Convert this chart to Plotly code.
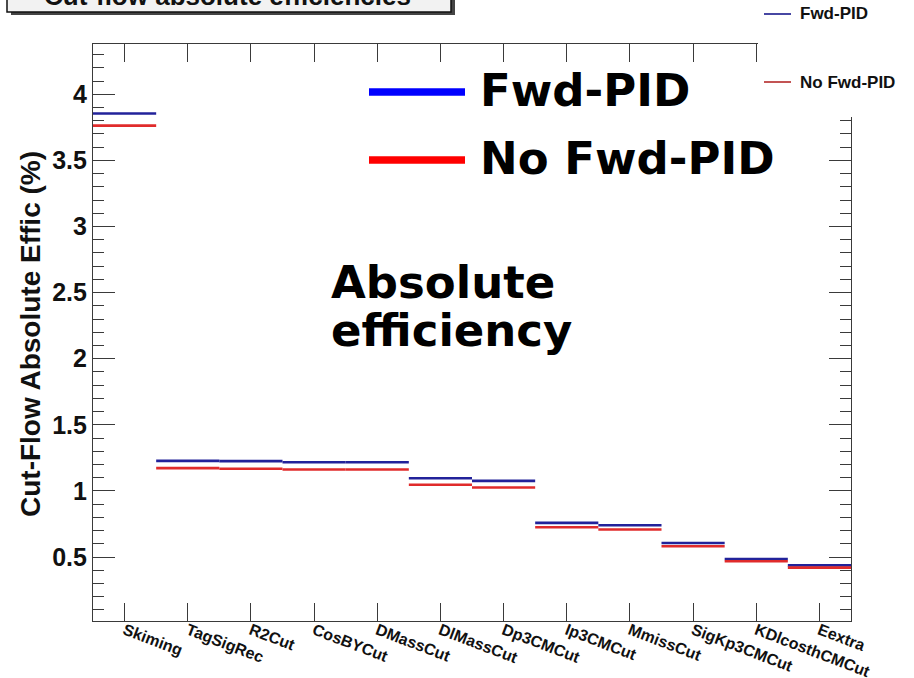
import plotly.graph_objects as go

# Cut-flow steps and absolute efficiencies (%)
cuts = ["Skiming", "TagSigRec", "R2Cut", "CosBYCut", "DMassCut", "DlMassCut",
        "Dp3CMCut", "Ip3CMCut", "MmissCut", "SigKp3CMCut", "KDlcosthCMCut", "Eextra"]
eff_fwd_pid = [3.854, 1.227, 1.225, 1.217, 1.217, 1.096, 1.076, 0.758, 0.740, 0.606, 0.485, 0.437]
eff_no_fwd_pid = [3.763, 1.172, 1.167, 1.162, 1.162, 1.046, 1.026, 0.725, 0.708, 0.581, 0.468, 0.420]

W, H = 914, 678
ML, MR, MT, MB = 93, 63, 44, 57
PW, PH = W - ML - MR, H - MT - MB


def fx(px):
    return (px - ML) / PW


def fy(py):
    return (H - MB - py) / PH


def bin_segments(values):
    """Horizontal segment per bin, spanning the full bin width."""
    xs, ys = [], []
    for i, v in enumerate(values):
        xs += [i - 0.5, i + 0.5, None]
        ys += [v, v, None]
    return xs, ys


fig = go.Figure()
for name, vals, col in [("Fwd-PID", eff_fwd_pid, "#22229a"),
                        ("No Fwd-PID", eff_no_fwd_pid, "#e02b2b")]:
    xs, ys = bin_segments(vals)
    fig.add_trace(go.Scatter(x=xs, y=ys, mode="lines", name=name,
                             line=dict(color=col, width=2.6),
                             connectgaps=False, showlegend=False,
                             hoverinfo="skip"))

axis_col = "#3a3a3a"
fig.update_xaxes(
    range=[-0.5, len(cuts) - 0.5],
    tickmode="array", tickvals=list(range(len(cuts))), ticktext=cuts,
    tickangle=21, ticks="inside", ticklen=18, tickwidth=1, tickcolor=axis_col,
    ticklabelstandoff=-7,
    showline=True, linecolor=axis_col, linewidth=1.2, mirror="ticks",
    showgrid=False, zeroline=False,
    tickfont=dict(family="Liberation Sans", size=16, color="#111111", weight="bold"),
)
fig.update_yaxes(
    range=[0.016, 4.38],
    tick0=0, dtick=0.5, ticks="inside", ticklen=22, tickwidth=1, tickcolor=axis_col,
    minor=dict(dtick=0.1, tick0=0, ticks="inside", ticklen=11, tickcolor=axis_col, tickwidth=1),
    showline=True, linecolor=axis_col, linewidth=1.2, mirror="ticks",
    showgrid=False, zeroline=False,
    tickfont=dict(family="Liberation Sans", size=25, color="#111111", weight="bold"),
)

shapes = []
annotations = []

# Title box (partly off the top of the canvas)
shapes.append(dict(type="rect", xref="paper", yref="paper", layer="above",
                   x0=fx(11), x1=fx(455), y0=fy(15), y1=fy(-40),
                   fillcolor="#444444", line=dict(width=0)))
shapes.append(dict(type="rect", xref="paper", yref="paper", layer="above",
                   x0=fx(7), x1=fx(451), y0=fy(12), y1=fy(-40),
                   fillcolor="#f2f2f2", line=dict(color="#111111", width=1.5)))
annotations.append(dict(xref="paper", yref="paper", x=fx(227), y=fy(-4),
                        xanchor="center", yanchor="middle", showarrow=False,
                        text="Cut-flow absolute efficiencies",
                        font=dict(family="Liberation Sans", size=26, color="#111111", weight="bold")))

# Small legend panel in the top-right corner
shapes.append(dict(type="rect", xref="paper", yref="paper", layer="above",
                   x0=fx(758), x1=fx(920), y0=fy(117), y1=fy(-5),
                   fillcolor="white", line=dict(width=0)))
for py, label, col in [(14, "Fwd-PID", "#1a1a8c"), (82, "No Fwd-PID", "#b52a2a")]:
    shapes.append(dict(type="line", xref="paper", yref="paper", layer="above",
                       x0=fx(764), x1=fx(791), y0=fy(py), y1=fy(py),
                       line=dict(color=col, width=1.6)))
    annotations.append(dict(xref="paper", yref="paper", x=fx(798), y=fy(py),
                            xanchor="left", yanchor="middle", showarrow=False, text=label,
                            font=dict(family="Liberation Sans", size=17, color="#111111", weight="bold")))

# Large in-plot legend
for py, label, col in [(92, "Fwd-PID", "#0000ff"), (160, "No Fwd-PID", "#ff0000")]:
    shapes.append(dict(type="line", xref="paper", yref="paper", layer="above",
                       x0=fx(369), x1=fx(465), y0=fy(py), y1=fy(py),
                       line=dict(color=col, width=7.5)))
    annotations.append(dict(xref="paper", yref="paper", x=fx(478), y=fy(py - 1.5),
                            xanchor="left", yanchor="middle", showarrow=False, text=label,
                            font=dict(family="DejaVu Sans", size=45, color="black", weight="bold")))

# Plot label
for py, line in [(282, "Absolute"), (330, "efficiency")]:
    annotations.append(dict(xref="paper", yref="paper", x=fx(329), y=fy(py),
                            xanchor="left", yanchor="middle", showarrow=False, text=line,
                            font=dict(family="DejaVu Sans", size=45, color="black", weight="bold")))

# Y-axis title
annotations.append(dict(xref="paper", yref="paper", x=fx(30), y=fy(334),
                        xanchor="center", yanchor="middle", showarrow=False, textangle=-90,
                        text="Cut-Flow Absolute Effic (%)",
                        font=dict(family="Liberation Sans", size=28, color="#111111", weight="bold")))

fig.update_layout(
    width=W, height=H,
    margin=dict(l=ML, r=MR, t=MT, b=MB, autoexpand=False),
    paper_bgcolor="white", plot_bgcolor="white",
    shapes=shapes, annotations=annotations,
    showlegend=False,
)

fig.write_html("out.html")
